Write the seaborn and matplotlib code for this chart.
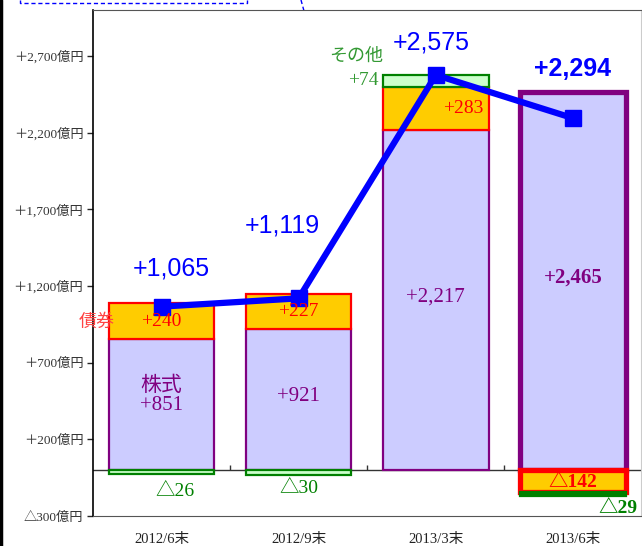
import pandas as pd
import numpy as np
import matplotlib
matplotlib.use('Agg')
import matplotlib.pyplot as plt
import seaborn as sns
from matplotlib.lines import Line2D

periods = ['2012/6末', '2012/9末', '2013/3末', '2013/6末']
stocks = [851, 921, 2217, 2465]
bonds = [240, 227, 283, -142]
others = [-26, -30, 74, -29]
totals = [1065, 1119, 2575, 2294]
total_labels = ['+1,065', '+1,119', '+2,575', '+2,294']
ytick_vals = [2700, 2200, 1700, 1200, 700, 200, -300]
ytick_labels = ['＋2,700億円', '＋2,200億円', '＋1,700億円', '＋1,200億円',
                '＋700億円', '＋200億円', '△300億円']

SERIF = ['Liberation Serif', 'Noto Sans CJK JP', 'DejaVu Sans']
SANS = ['Liberation Sans', 'DejaVu Sans']


def fmt(v):
    return f'+{v:,}' if v >= 0 else f'△{-v:,}'


# stacked bottoms: positives pile up from 0, negatives pile down from 0
pos = np.zeros(4)
neg = np.zeros(4)
bottoms = []
for layer in (stocks, bonds, others):
    b = []
    for i, v in enumerate(layer):
        if v >= 0:
            b.append(pos[i]); pos[i] += v
        else:
            b.append(neg[i]); neg[i] += v
    bottoms.append(b)

df = pd.DataFrame({'period': periods, 'stocks': stocks, 'bonds': bonds,
                   'others': others, 'total': totals})

sns.set_style('white')
fig = plt.figure(figsize=(6.42, 5.46), dpi=100)
ax = fig.add_axes([0.145, 0.055, 0.854, 0.927])

layers = [('stocks', '#CCCCFF', '#800080'),
          ('bonds', '#FFCC00', '#FF0000'),
          ('others', '#CCFFCC', '#008000')]
groups = []
for (col, fc, ec), b in zip(layers, bottoms):
    n0 = len(ax.patches)
    sns.barplot(data=df, x='period', y=col, bottom=b, color=fc, width=0.77,
                edgecolor=ec, linewidth=1.6, saturation=1, ax=ax, zorder=2)
    groups.append(ax.patches[n0:])

# the latest quarter is highlighted
groups[0][3].set_linewidth(3.8)
groups[1][3].set_linewidth(3.8)
groups[2][3].set_facecolor('#008000')

# total line
ax.plot(range(4), df['total'], color='#0000FF', lw=4.5, marker='s',
        markersize=11, zorder=5)

ax.axhline(0, color='#333333', lw=1.0, zorder=1)
ax.vlines([0.5, 1.5, 2.5], 0, 30, color='#333333', lw=1.0)

ax.set_xlim(-0.5, 3.5)
ax.set_ylim(-300, 3000)
ax.set_yticks(ytick_vals)
ax.set_yticklabels(ytick_labels, family=SERIF, fontsize=9.5, color='#333333')
ax.set_xticks(range(4))
ax.set_xticklabels(periods, family=SERIF, fontsize=10.5, color='#222222')
ax.tick_params(axis='x', length=0, pad=12)
ax.tick_params(axis='y', length=4, width=1, direction='out', left=True, pad=3)
ax.set_xlabel('')
ax.set_ylabel('')
ax.spines['left'].set_color('black')
ax.spines['left'].set_linewidth(1.2)
ax.spines['top'].set_color('#555555')
ax.spines['bottom'].set_color('#555555')
ax.spines['right'].set_color('#CCCCCC')

# labels inside bars
for i in range(4):
    bold = 'bold' if i == 3 else 'normal'
    ymid = bottoms[0][i] + stocks[i] * 0.5 + 20
    txt = fmt(stocks[i])
    if i == 0:
        txt = '株式\n' + txt
        ymid += 40
    ax.text(i, ymid, txt, ha='center', va='center', color='#800080',
            fontsize=15, family=SERIF, fontweight=bold, linespacing=1.0, zorder=6)

ax.text(0, bottoms[1][0] + bonds[0] / 2, fmt(bonds[0]), ha='center',
        va='center', color='#FF0000', fontsize=14, family=SERIF, zorder=6)
ax.text(1, bottoms[1][1] + bonds[1] / 2, fmt(bonds[1]), ha='center',
        va='center', color='#FF0000', fontsize=14, family=SERIF, zorder=6)
ax.text(2.2, bottoms[1][2] + bonds[2] / 2, fmt(bonds[2]), ha='center',
        va='center', color='#FF0000', fontsize=14, family=SERIF, zorder=6)
ax.text(3, bottoms[1][3] + bonds[3] / 2 - 10, fmt(bonds[3]), ha='center',
        va='center', color='#FF0000', fontsize=14, family=SERIF,
        fontweight='bold', zorder=6)
ax.text(-0.47, bottoms[1][0] + bonds[0] / 2 - 10, '債券', ha='center',
        va='center', color='#FF4444', fontsize=13, family=SERIF, zorder=6)

ax.text(0.1, -143, fmt(others[0]), ha='center', va='center',
        color='#008000', fontsize=14, family=SERIF)
ax.text(1, -120, fmt(others[1]), ha='center', va='center',
        color='#008000', fontsize=14, family=SERIF)
ax.text(1.47, 2536, fmt(others[2]), ha='center', va='center',
        color='#339933', fontsize=14, family=SERIF)
ax.text(1.42, 2700, 'その他', ha='center', va='center',
        color='#339933', fontsize=13, family=SERIF)
ax.text(3.33, -250, fmt(others[3]), ha='center', va='center',
        color='#008000', fontsize=14, family=SERIF, fontweight='bold')

# total labels above the line
offs = [(0.07, 250), (-0.12, 474), (-0.03, 210), (0.0, 321)]
for i, (dx, dy) in enumerate(offs):
    ax.text(i + dx, totals[i] + dy, total_labels[i], ha='center', va='center',
            color='#0000FF', fontsize=18, family=SANS,
            fontweight='bold' if i == 3 else 'normal', zorder=6)

# remnants of a callout box cut off at the top
fig.add_artist(Line2D([20 / 642, 20 / 642, 247 / 642, 247 / 642],
                      [1.0, 543 / 546, 543 / 546, 1.0],
                      color='#0000FF', lw=1.0, ls=(0, (3, 2))))
fig.add_artist(Line2D([301 / 642, 357 / 642], [1.0, 1 - 205 / 546],
                      color='#0000FF', lw=1.0, ls=(0, (3, 2)), zorder=0))
fig.add_artist(Line2D([1.5 / 642, 1.5 / 642], [0, 1], color='black', lw=2.5))

fig.savefig('out.png', dpi=100)
